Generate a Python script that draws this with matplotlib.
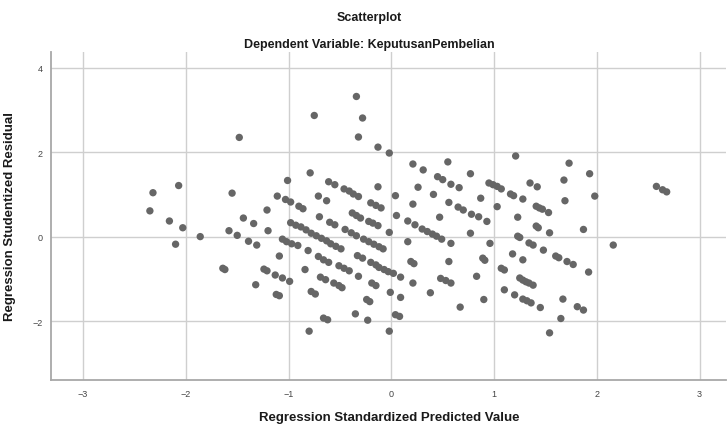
import matplotlib
matplotlib.use("Agg")
import matplotlib.pyplot as plt

plt.rcParams['font.family'] = ['Liberation Sans', 'DejaVu Sans']

# Regression Standardized Predicted Value
pred_value = [
    -2.35, -2.32, -2.07, -2.16, -2.03, -2.10, -1.86, -1.48, -1.55, -1.58,
    -1.50, -1.44, -1.34, -1.39, -1.31, -1.21, -1.20, -1.64, -1.62, -1.24,
    -1.21, -1.13, -1.06, -1.32, -1.12, -1.09, -1.11, -1.09,
    -0.34, -0.75, -0.28, -0.32, -0.13, -0.02, 0.21, 0.55, 0.31, -0.79,
    0.77, 0.45, 0.50, -1.01, -0.61, -0.55, 0.58, 0.66, 0.26, -0.13,
    0.95, 0.99, 1.03, 1.07, -0.46, -0.41, -0.37, -0.32, -0.71, 0.41,
    -0.63, -1.03, -0.98, 0.04, 0.87, -0.20, -0.15, -0.10, -0.90, -0.86,
    0.21, 0.56, 0.65, 0.70, 1.03, -0.70, 0.05, 0.47, -0.38, -0.34,
    -0.30, 0.78, 0.85,
    -0.98, -0.93, -0.88, -0.83, -0.78, -0.73, -0.68, -0.63, -0.59, -0.54,
    -0.49, -0.60, -0.55, -0.22, -0.18, -0.13, 0.16, 0.23, 0.30, 0.35,
    0.40, 0.44, 0.49, 0.93, -0.45, -0.39, -0.34, -0.27, -0.22, -0.17,
    -0.12, -0.08, -0.02, 0.16, 0.58, 0.77, 0.96, -1.06, -1.02, -0.97,
    -0.91, -0.81, -0.71, -0.66, -0.61, -0.33, -0.28, -0.20, -0.15, -0.51,
    -0.46, -0.41, -0.12, -0.07, -0.03, 0.02, 0.19, 0.22, 0.56, 0.89,
    0.91, -0.84, -0.99, -0.69, -0.64, -0.32, -0.56, -0.51, -0.48, -0.19,
    -0.15, 0.09, 0.21, 0.48, 0.53, 0.58, 0.83, -0.78, -0.74, -0.01,
    0.09, 0.38, -0.24, -0.21, 0.90, 0.67, -0.35, 0.04, 0.08, -0.66,
    -0.62, -0.23, -0.80, -0.02,
    1.21, 1.73, 1.93, 1.68, 1.35, 1.42, 2.58, 2.64, 2.68, 1.16,
    1.19, 1.28, 1.98, 1.69, 1.41, 1.44, 1.47, 1.53, 1.23, 1.41,
    1.43, 1.87, 1.54, 1.23, 1.25, 1.34, 1.38, 1.48, 2.16, 1.18,
    1.28, 1.60, 1.63, 1.71, 1.77, 1.07, 1.10, 1.92, 1.25, 1.28,
    1.31, 1.34, 1.38, 1.10, 1.20, 1.28, 1.32, 1.36, 1.45, 1.67,
    1.81, 1.87, 1.65, 1.54,
]

# Regression Studentized Residual
stud_resid = [
    0.61, 1.04, 1.21, 0.37, 0.21, -0.18, 0.00, 2.35, 1.03, 0.14,
    0.03, 0.44, 0.31, -0.11, -0.20, 0.63, 0.14, -0.75, -0.78, -0.77,
    -0.81, -0.91, -0.98, -1.14, -1.37, -1.40, 0.96, -0.46,
    3.32, 2.87, 2.81, 2.36, 2.12, 1.98, 1.72, 1.77, 1.58, 1.51,
    1.49, 1.42, 1.35, 1.33, 1.30, 1.23, 1.24, 1.16, 1.17, 1.18,
    1.27, 1.23, 1.19, 1.13, 1.13, 1.08, 1.01, 0.95, 0.96, 1.00,
    0.85, 0.88, 0.82, 0.97, 0.91, 0.80, 0.74, 0.68, 0.72, 0.66,
    0.77, 0.81, 0.70, 0.63, 0.71, 0.47, 0.50, 0.46, 0.56, 0.50,
    0.44, 0.53, 0.47,
    0.33, 0.27, 0.23, 0.16, 0.08, 0.02, -0.04, -0.10, -0.17, -0.23,
    -0.29, 0.34, 0.28, 0.36, 0.32, 0.26, 0.37, 0.28, 0.18, 0.12,
    0.06, 0.01, -0.06, 0.36, 0.17, 0.09, 0.02, -0.06, -0.12, -0.18,
    -0.24, -0.29, 0.10, -0.12, -0.16, 0.08, -0.16, -0.06, -0.12, -0.17,
    -0.21, -0.33, -0.47, -0.55, -0.61, -0.45, -0.51, -0.61, -0.67, -0.69,
    -0.75, -0.81, -0.73, -0.78, -0.83, -0.87, -0.59, -0.64, -0.59, -0.51,
    -0.56, -0.78, -1.06, -0.96, -1.02, -0.94, -1.10, -1.16, -1.21, -1.10,
    -1.16, -0.96, -1.10, -0.99, -1.04, -1.10, -0.94, -1.30, -1.36, -1.32,
    -1.44, -1.33, -1.49, -1.54, -1.49, -1.67, -1.83, -1.85, -1.89, -1.93,
    -1.97, -1.98, -2.24, -2.24,
    1.91, 1.74, 1.49, 1.34, 1.27, 1.18, 1.19, 1.11, 1.06, 1.01,
    0.97, 0.89, 0.96, 0.85, 0.72, 0.68, 0.65, 0.57, 0.46, 0.25,
    0.21, 0.17, 0.09, 0.01, -0.02, -0.15, -0.20, -0.32, -0.20, -0.41,
    -0.55, -0.46, -0.50, -0.59, -0.66, -0.75, -0.79, -0.84, -0.98, -1.03,
    -1.07, -1.10, -1.15, -1.26, -1.38, -1.48, -1.52, -1.57, -1.68, -1.48,
    -1.66, -1.74, -1.94, -2.28,
]

x_ticks = [-3, -2, -1, 0, 1, 2, 3]
y_ticks = [-2, 0, 2, 4]

fig = plt.figure(figsize=(7.27, 4.27), dpi=100)
ax = fig.add_axes([0.0705, 0.1084, 0.9285, 0.7681])

ax.scatter(pred_value, stud_resid, s=28, color="#666666", edgecolors="none", zorder=3)

ax.set_xlim(-3.31, 3.26)
ax.set_ylim(-3.39, 4.38)
ax.set_xticks(x_ticks)
ax.set_yticks(y_ticks)
ax.grid(color="#cfcfcf", linewidth=1.0)
ax.set_axisbelow(True)

for side in ["top", "right"]:
    ax.spines[side].set_visible(False)
for side in ["left", "bottom"]:
    ax.spines[side].set_color("#a8a8a8")
    ax.spines[side].set_linewidth(1.3)

ax.tick_params(axis="both", length=0, labelsize=6.5, labelcolor="#444444")
ax.tick_params(axis="x", pad=7)
ax.tick_params(axis="y", pad=6)

ax.set_xlabel("Regression Standardized Predicted Value", fontsize=9.5,
              fontweight="bold", color="#1a1a1a", labelpad=9)
ax.set_ylabel("Regression Studentized Residual", fontsize=9.5,
              fontweight="bold", color="#1a1a1a", labelpad=12)

fig.text(0.508, 1 - 18 / 427, "Scatterplot", ha="center", va="center",
         fontsize=9, fontweight="bold", color="#1a1a1a")
fig.text(0.508, 1 - 45 / 427, "Dependent Variable: KeputusanPembelian",
         ha="center", va="center", fontsize=9, fontweight="bold", color="#1a1a1a")

fig.savefig("out.png", dpi=100)
